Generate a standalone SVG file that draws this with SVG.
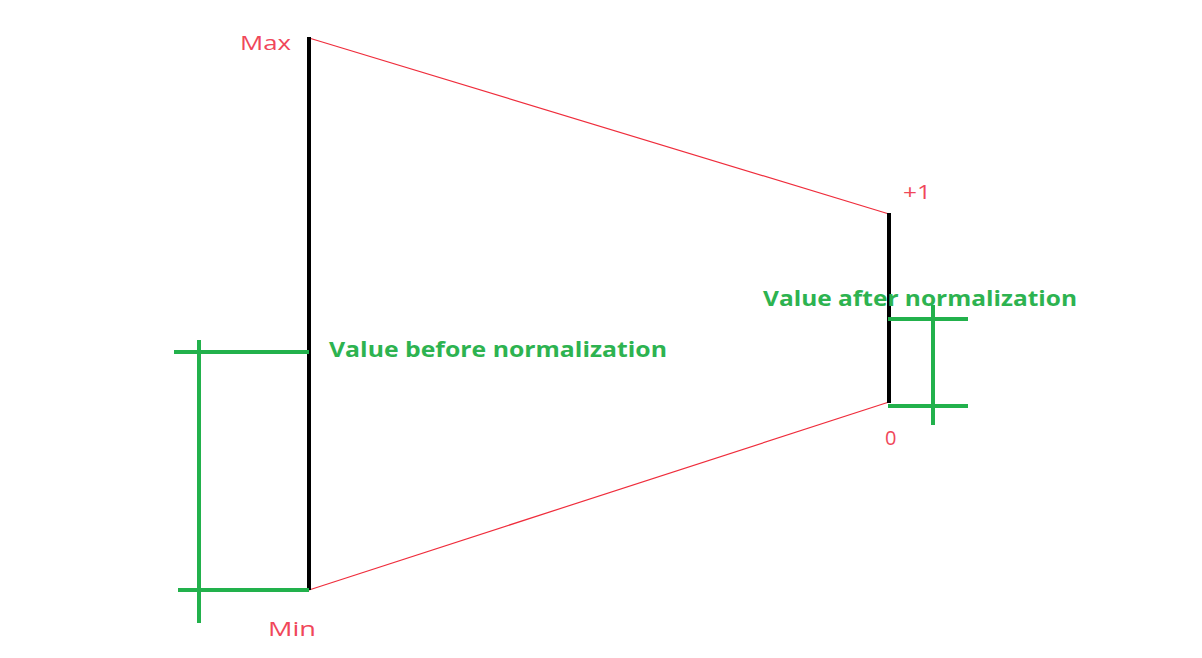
<svg xmlns="http://www.w3.org/2000/svg" width="1202" height="658" viewBox="0 0 1202 658">
<style>
.axis{stroke:#000;stroke-width:4;fill:none}
.map{stroke:#ef2d3c;stroke-width:1.2;fill:none}
.gr{stroke:#22b14c;stroke-width:4;fill:none}
.lbl{fill:#f0475a;font-family:"Open Sans","Liberation Sans",sans-serif;font-size:20px}
.val{fill:#2db350;font-family:"Open Sans","Liberation Sans",sans-serif;font-size:21px;font-weight:bold}
</style>
<rect width="1202" height="658" fill="#fff"/>
<g id="connectors">
<line class="map" x1="309" y1="38" x2="889" y2="214"/>
<line class="map" x1="309" y1="590" x2="889" y2="402"/>
</g>
<g id="before-axis">
<line class="axis" x1="309" y1="37" x2="309" y2="590"/>
<text class="lbl" x="240" y="50" textLength="51" lengthAdjust="spacingAndGlyphs">Max</text>
<text class="lbl" x="268" y="636" textLength="48" lengthAdjust="spacingAndGlyphs">Min</text>
</g>
<g id="after-axis">
<line class="axis" x1="889" y1="213" x2="889" y2="403"/>
<text class="lbl" x="903" y="199" textLength="28" lengthAdjust="spacingAndGlyphs">+1</text>
<text class="lbl" x="885" y="445">0</text>
</g>
<g id="before-range">
<line class="gr" x1="174" y1="352" x2="309" y2="352"/>
<line class="gr" x1="178" y1="590" x2="309" y2="590"/>
<line class="gr" x1="199" y1="340" x2="199" y2="623"/>
<text class="val" x="329" y="357" textLength="338" lengthAdjust="spacingAndGlyphs">Value before normalization</text>
</g>
<g id="after-range">
<line class="gr" x1="888" y1="319" x2="968" y2="319"/>
<line class="gr" x1="888" y1="406" x2="968" y2="406"/>
<line class="gr" x1="933" y1="305" x2="933" y2="425"/>
<text class="val" x="763" y="306" textLength="314" lengthAdjust="spacingAndGlyphs">Value after normalization</text>
</g>
</svg>
